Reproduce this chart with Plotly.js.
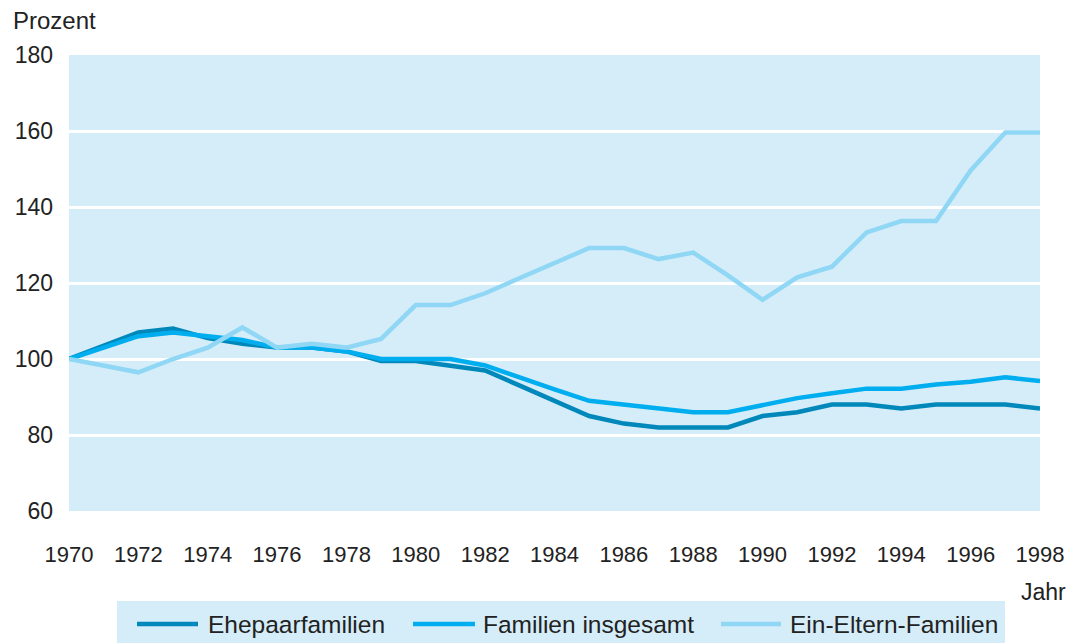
<!DOCTYPE html>
<html>
<head>
<meta charset="utf-8">
<script src="https://cdn.plot.ly/plotly-3.0.1.min.js"></script>
<style>
html,body{margin:0;padding:0;background:#fff;}
#chart{width:1071px;height:643px;}
</style>
</head>
<body>
<div id="chart"></div>
<script>
const years = [1970,1971,1972,1973,1974,1975,1976,1977,1978,1979,1980,1981,1982,1983,1984,1985,1986,1987,1988,1989,1990,1991,1992,1993,1994,1995,1996,1997,1998];
const ehepaar = [100,103.5,107,108,105.5,104,103,103,102,99.5,99.5,98.2,97,93,89,85,83,82,82,82,85,86,88,88,87,88,88,88,87];
const insgesamt = [100,103,106,107,106,105,103,103,102,100,100,100,98.3,95,92,89,88,86.8,86,86,88,89.7,91,92.2,92.2,93.3,94,95.2,94.2];
const einEltern = [100,98.2,96.5,100,103,108.3,103,104,103,105.3,114.2,114.2,117.3,121.3,125.3,129.2,129.2,126.3,128,122,115.6,121.5,124.3,133.3,136.3,136.3,149.6,159.6,159.6];
const seriesNames = ['Ehepaarfamilien','Familien insgesamt','Ein-Eltern-Familien'];
const seriesColors = ['#0088bb','#00aeef','#8fd7f5'];
const yTicks = [60,80,100,120,140,160,180];
const xTicks = [1970,1972,1974,1976,1978,1980,1982,1984,1986,1988,1990,1992,1994,1996,1998];

const W = 1071, H = 643, L = 69, R = 31, T = 55, B = 132;
const pw = W - L - R, ph = H - T - B;
const px = x => (x - L) / pw;
const py = y => (H - B - y) / ph;

const font = 'Liberation Sans, Arial, sans-serif';
const textColor = '#222222';

const data = [ehepaar, insgesamt, einEltern].map((vals, i) => ({
  x: years, y: vals, type: 'scatter', mode: 'lines', name: seriesNames[i],
  line: {color: seriesColors[i], width: 4.5}, showlegend: false, hoverinfo: 'x+y'
}));

const shapes = [{
  type: 'rect', xref: 'paper', yref: 'paper', layer: 'below',
  x0: px(117), x1: px(1005), y0: py(601), y1: py(643),
  fillcolor: '#d5edf9', line: {width: 0}
}];
const legLines = [[137,198],[413,475],[721,781]];
const legText = [206,481,788];
const annotations = [];
seriesNames.forEach((n, i) => {
  shapes.push({type: 'line', xref: 'paper', yref: 'paper',
    x0: px(legLines[i][0]), x1: px(legLines[i][1]), y0: py(624), y1: py(624),
    line: {color: seriesColors[i], width: 4.5}});
  annotations.push({xref: 'paper', yref: 'paper', x: px(legText[i]), y: py(624),
    xanchor: 'left', yanchor: 'middle', text: n, showarrow: false,
    font: {family: font, size: 24.5, color: textColor}});
});
annotations.push({xref: 'paper', yref: 'paper', x: px(11), y: py(20), xanchor: 'left', yanchor: 'middle',
  text: 'Prozent', showarrow: false, font: {family: font, size: 24, color: textColor}});
annotations.push({xref: 'paper', yref: 'paper', x: px(1068), y: py(592), xanchor: 'right', yanchor: 'middle',
  text: 'Jahr', showarrow: false, font: {family: font, size: 23, color: textColor}});

const layout = {
  width: W, height: H,
  margin: {l: L, r: R, t: T, b: B, pad: 0},
  paper_bgcolor: '#ffffff', plot_bgcolor: '#d5edf9',
  showlegend: false,
  xaxis: {range: [1970, 1998], tickvals: xTicks, ticktext: xTicks.map(String),
    showgrid: false, zeroline: false, showline: false, ticks: '',
    ticklabelstandoff: 28, tickfont: {family: font, size: 22, color: textColor}},
  yaxis: {range: [60, 180], tickvals: yTicks, ticktext: yTicks.map(String),
    showgrid: true, gridcolor: '#ffffff', gridwidth: 3, zeroline: false, showline: false, ticks: '',
    ticklabelstandoff: 15, tickfont: {family: font, size: 23, color: textColor}},
  shapes: shapes, annotations: annotations
};
Plotly.newPlot('chart', data, layout, {displayModeBar: false, staticPlot: true});
</script>
</body>
</html>
